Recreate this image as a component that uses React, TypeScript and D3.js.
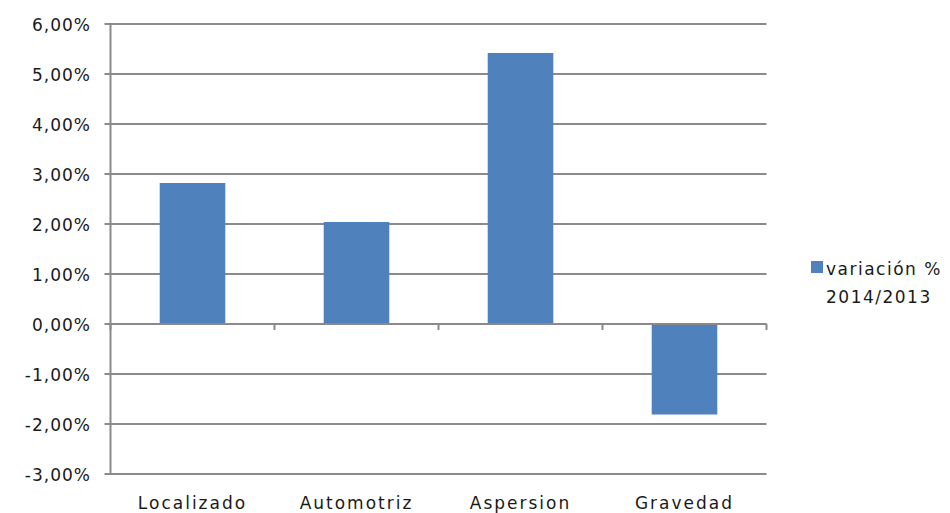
import React from "react";
import * as d3 from "d3";

const categories = ["Localizado", "Automotriz", "Aspersion", "Gravedad"];
const values = [0.0282, 0.0204, 0.0542, -0.0181];
const yTicks = [0.06, 0.05, 0.04, 0.03, 0.02, 0.01, 0, -0.01, -0.02, -0.03];
const legendLines = ["variación %", "2014/2013"];

const W = 950;
const H = 513;
const left = 110.5;
const right = 766.5;
const top = 24;
const bottom = 474;
const font = "'DejaVu Sans', Verdana, sans-serif";
const grid = "#8a8a8a";
const barColor = "#4F81BD";
const textColor = "#1a1a1a";

export default function App() {
  const y = d3.scaleLinear().domain([-0.03, 0.06]).range([bottom, top]);
  const x = d3.scaleBand<string>().domain(categories).range([left, right]).paddingInner(0.6).paddingOuter(0.3);
  const step = (right - left) / categories.length;
  const fmt = (v: number) => (v * 100).toFixed(2).replace(".", ",") + "%";
  const y0 = y(0);
  return (
    <svg width={W} height={H} style={{ position: "absolute", left: 0, top: 0, background: "#fff" }}>
      {yTicks.map((t) => (
        <g key={t}>
          <line x1={left - 6} x2={right} y1={y(t)} y2={y(t)} stroke={grid} strokeWidth={2} />
          <text
            x={91}
            y={y(t) + 7}
            textAnchor="end"
            fontFamily={font}
            fontSize={17}
            letterSpacing={1}
            fill={textColor}
          >
            {fmt(t)}
          </text>
        </g>
      ))}
      <line x1={left} x2={left} y1={top} y2={bottom} stroke={grid} strokeWidth={2} />
      {values.map((v, i) => (
        <rect
          key={categories[i]}
          x={x(categories[i])}
          width={x.bandwidth()}
          y={Math.min(y(v), y0)}
          height={Math.abs(y(v) - y0)}
          fill={barColor}
        />
      ))}
      <line x1={left} x2={right} y1={y0} y2={y0} stroke={grid} strokeWidth={2} />
      {d3.range(categories.length + 1).map((i) => (
        <line key={i} x1={left + i * step} x2={left + i * step} y1={y0} y2={y0 + 6} stroke={grid} strokeWidth={2} />
      ))}
      {categories.map((c) => (
        <text
          key={c}
          x={(x(c) as number) + x.bandwidth() / 2}
          y={509}
          textAnchor="middle"
          fontFamily={font}
          fontSize={17}
          letterSpacing={2}
          fill={textColor}
        >
          {c}
        </text>
      ))}
      <rect x={811} y={261} width={12} height={12} fill={barColor} />
      {legendLines.map((l, i) => (
        <text
          key={l}
          x={826}
          y={275 + i * 28}
          fontFamily={font}
          fontSize={17}
          letterSpacing={1.5}
          fill={textColor}
        >
          {l}
        </text>
      ))}
    </svg>
  );
}
